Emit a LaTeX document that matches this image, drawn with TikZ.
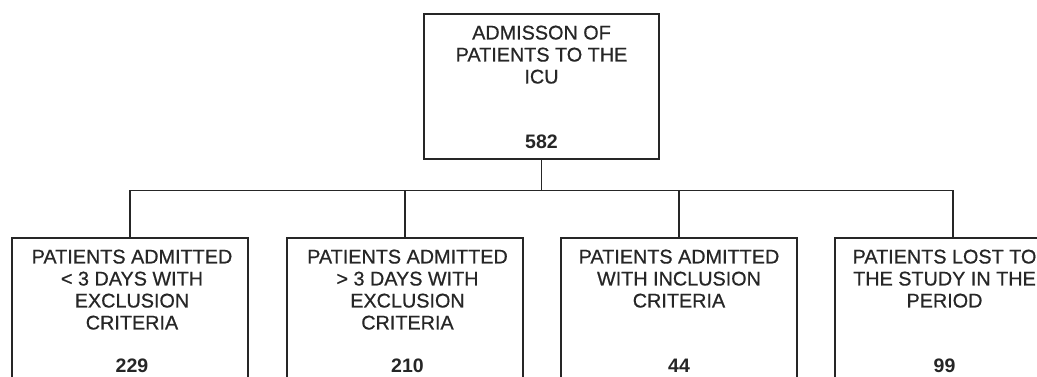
\documentclass[tikz,border=0pt]{standalone}
\usepackage{fontspec}
\setmainfont{Liberation Sans}
\newfontfamily\lblfont[FakeBold=0.6]{Liberation Sans}
\definecolor{ink}{HTML}{262626}
\begin{document}
\begin{tikzpicture}[x=1pt,y=-1pt,
  boxnode/.style={draw=ink, line width=1.1pt, rectangle, inner sep=0pt,
    minimum width=236pt, minimum height=145pt},
  lbl/.style={anchor=north, inner sep=0pt, align=center, text=ink,
    font=\lblfont\fontsize{19.8}{22}\selectfont},
  num/.style={anchor=base, inner sep=0pt, text=ink,
    font=\fontsize{19.5}{22}\selectfont\bfseries},
  conn/.style={draw=ink, line width=1.1pt}]
\useasboundingbox (0,0) rectangle (1037,376);
\clip (0,0) rectangle (1037,376);
\fill[white] (0,0) rectangle (1037,376);

\node[boxnode, minimum width=235pt] (top) at (541.5,86.5) {};
\node[boxnode] (b1) at (130,310.5) {};
\node[boxnode] (b2) at (405,310.5) {};
\node[boxnode] (b3) at (679,310.5) {};
\node[boxnode] (b4) at (953,310.5) {};

\node[lbl] (ttop) at ([yshift=-12pt]top.north) {ADMISSON OF\\PATIENTS TO THE\\ICU};
\node[num] (ntop) at ([yshift=-135pt]top.north) {582};

\node[lbl] (t1) at ([yshift=-12pt,xshift=2pt]b1.north) {PATIENTS ADMITTED\\< 3 DAYS WITH\\EXCLUSION\\CRITERIA};
\node[num] (n1) at ([yshift=-135pt,xshift=2pt]b1.north) {229};

\node[lbl] (t2) at ([yshift=-12pt,xshift=2.5pt]b2.north) {PATIENTS ADMITTED\\> 3 DAYS WITH\\EXCLUSION\\CRITERIA};
\node[num] (n2) at ([yshift=-135pt,xshift=2.5pt]b2.north) {210};

\node[lbl] (t3) at ([yshift=-12pt]b3.north) {PATIENTS ADMITTED\\WITH INCLUSION\\CRITERIA};
\node[num] (n3) at ([yshift=-135pt]b3.north) {44};

\node[lbl] (t4) at ([yshift=-12pt,xshift=-8.5pt]b4.north) {PATIENTS LOST TO\\THE STUDY IN THE\\PERIOD};
\node[num] (n4) at ([yshift=-135pt,xshift=-8.5pt]b4.north) {99};

\path (top.south) ++(0,31) coordinate (bar);
\draw[conn] (top.south) -- (bar);
\draw[conn] (b1.north) |- (bar -| b4.north) -- (b4.north);
\draw[conn] (b2.north) -- (b2.north |- bar);
\draw[conn] (b3.north) -- (b3.north |- bar);
\end{tikzpicture}
\end{document}
